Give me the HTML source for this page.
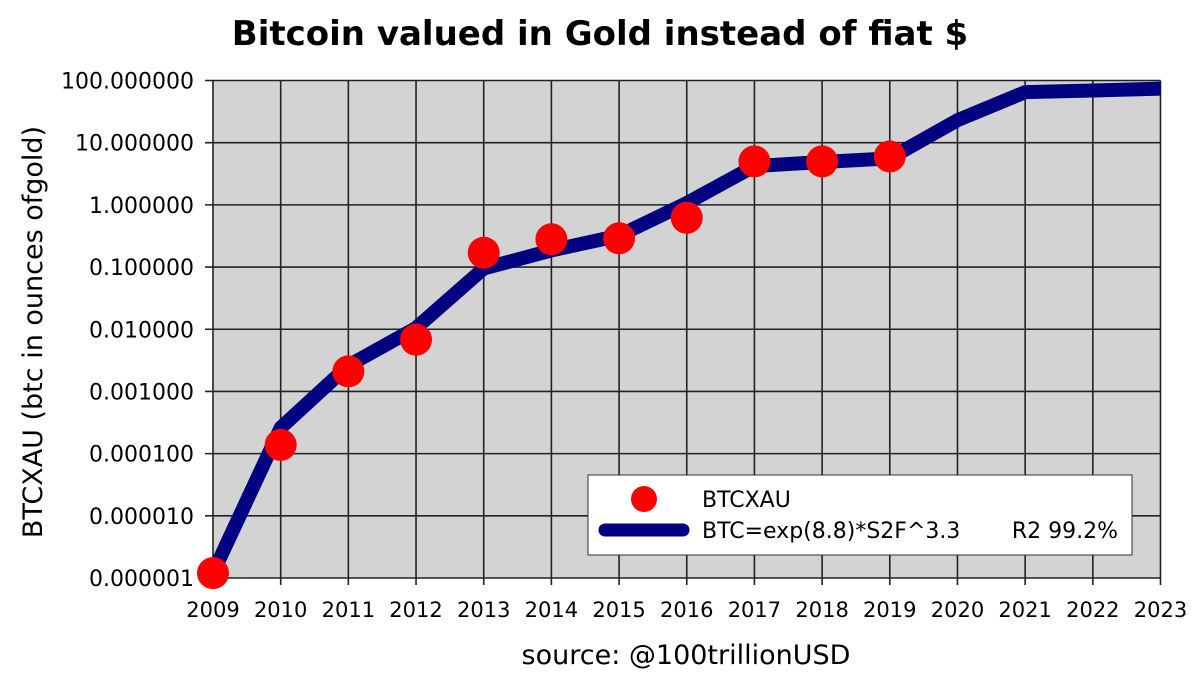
<!DOCTYPE html>
<html><head><meta charset="utf-8"><style>
body{margin:0;background:#fff;}
svg text{font-family:"DejaVu Sans","Liberation Sans",sans-serif;fill:#000;}
</style></head><body>
<svg width="1200" height="684" viewBox="0 0 1200 684">
<text x="600" y="45" text-anchor="middle" font-size="34" font-weight="bold">Bitcoin valued in Gold instead of fiat $</text>
<rect x="213" y="80.5" width="947.5" height="497.5" fill="#d3d3d3"/>
<g id="grid"></g>
<g id="lineg"></g>
<g id="dots"></g>
<text transform="translate(42,332) rotate(-90)" text-anchor="middle" font-size="27">BTCXAU (btc in ounces ofgold)</text>
<text x="686" y="664" text-anchor="middle" font-size="27">source: @100trillionUSD</text>
<g>
<rect x="588" y="475" width="544" height="80" fill="#fff" stroke="#333" stroke-width="1"/>
<circle cx="644" cy="499" r="13" fill="#f00"/>
<line x1="605" y1="530" x2="683" y2="530" stroke="#000080" stroke-width="13" stroke-linecap="round"/>
<text x="702" y="507" font-size="22">BTCXAU</text>
<text x="702" y="538" font-size="22">BTC=exp(8.8)*S2F^3.3</text>
<text x="1118" y="538" font-size="22" text-anchor="end">R2 99.2%</text>
</g>
</svg>
<script>
const years=[2009,2010,2011,2012,2013,2014,2015,2016,2017,2018,2019,2020,2021,2022,2023];
const dotYears=[2009,2010,2011,2012,2013,2014,2015,2016,2017,2018,2019];
const dotValues=[0.0000012,0.000138,0.0021,0.0068,0.17,0.28,0.29,0.62,5.0,5.0,6.0];
const modelValues=[0.0000012,0.00026,0.0026,0.0105,0.095,0.185,0.32,1.07,4.2,4.9,5.6,23,65,69,74];
const yTicks=[-6,-5,-4,-3,-2,-1,0,1,2];
const yTickLabels=["0.000001","0.000010","0.000100","0.001000","0.010000","0.100000","1.000000","10.000000","100.000000"];
const NS="http://www.w3.org/2000/svg";
const x0=213,x1=1160.5,yTop=80.5,yBot=578;
const xs=y=>x0+(y-2009)/(2023-2009)*(x1-x0);
const ys=v=>yBot-(Math.log10(v)+6)/8*(yBot-yTop);
const yl=l=>yBot-(l+6)/8*(yBot-yTop);
function mk(t,a,p){const e=document.createElementNS(NS,t);for(const k in a)e.setAttribute(k,a[k]);p.appendChild(e);return e;}
const g=document.getElementById('grid');
years.forEach(y=>{
  const l=mk('line',{x1:xs(y),x2:xs(y),y1:yTop,y2:yBot+7,stroke:'#222','stroke-width':1.6},g);
  
  
  const t=mk('text',{x:xs(y),y:617,'text-anchor':'middle','font-size':21},g);
  t.textContent=y;
  
  
});
yTicks.forEach((v,i)=>{
  const l=mk('line',{x1:x0-8,x2:x1,y1:yl(v),y2:yl(v),stroke:'#222','stroke-width':1.6},g);
  
  
  const t=mk('text',{x:194,y:yl(v)+8,'text-anchor':'end','font-size':22},g);
  t.textContent=yTickLabels[i];
  
  
});
const pl=mk('polyline',{points:years.map((y,i)=>xs(y)+','+ys(modelValues[i])).join(' '),fill:'none',stroke:'#000080','stroke-width':14,'stroke-linejoin':'round'},document.getElementById('lineg'));


const dg=document.getElementById('dots');
dotYears.forEach((y,i)=>{
  const c=mk('circle',{cx:xs(y),cy:ys(dotValues[i]),r:16,fill:'#f00'},dg);
  
  
});
</script>
</body></html>
